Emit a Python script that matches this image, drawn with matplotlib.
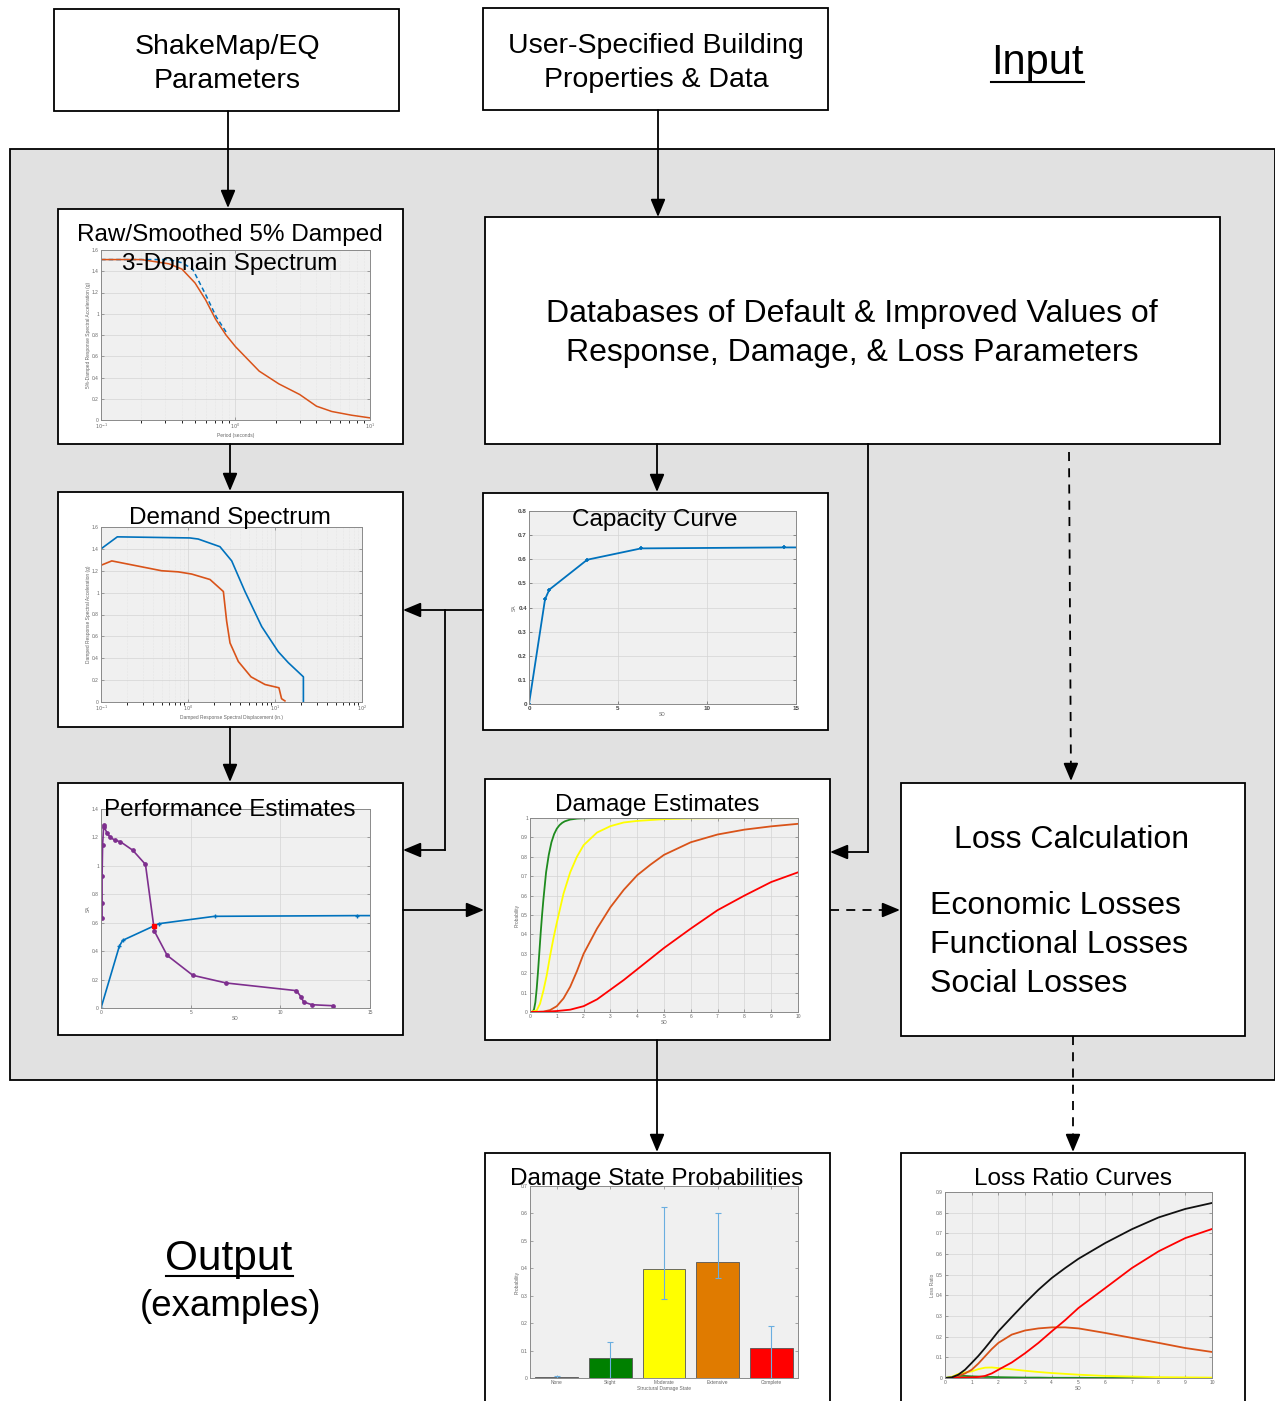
import matplotlib
matplotlib.use("Agg")
import matplotlib.pyplot as plt
from matplotlib.patches import Rectangle
from matplotlib.ticker import FuncFormatter, LogLocator, NullFormatter
import math

plt.rcParams['font.family'] = ['Liberation Sans', 'DejaVu Sans']

# ---------------- data ----------------
# Raw/Smoothed spectrum
spec_T = [0.1, 0.2, 0.32, 0.40, 0.50, 0.60, 0.71, 0.85, 1.0, 1.5, 2.1, 3.0, 4.0, 5.2, 7.3, 10.0]
spec_sa = [1.51, 1.51, 1.47, 1.42, 1.29, 1.13, 0.95, 0.80, 0.69, 0.46, 0.34, 0.24, 0.13, 0.08, 0.045, 0.02]
raw_T = [0.1, 0.32, 0.40, 0.48, 0.60, 0.72, 0.87]
raw_sa = [1.51, 1.51, 1.48, 1.42, 1.18, 0.97, 0.81]

# Demand spectrum
dem_hi_sd = [0.1, 0.154, 1.05, 1.31, 2.33, 3.18, 4.52, 7.03, 10.9, 14.2, 21.2, 21.2]
dem_hi_sa = [1.40, 1.51, 1.50, 1.49, 1.42, 1.29, 1.01, 0.69, 0.46, 0.36, 0.23, 0.0]
dem_lo_sd = [0.1, 0.133, 0.497, 0.77, 1.10, 1.79, 2.55, 2.78, 3.04, 3.79, 5.3, 7.67, 11.1, 11.9, 13.0]
dem_lo_sa = [1.25, 1.29, 1.20, 1.19, 1.17, 1.12, 1.01, 0.74, 0.54, 0.37, 0.23, 0.16, 0.13, 0.03, 0.01]

# Capacity curve
cap_sd = [0.0, 0.90, 1.14, 3.27, 6.30, 14.32, 15.0]
cap_sa = [0.0, 0.434, 0.474, 0.598, 0.645, 0.649, 0.649]

# Performance estimates
perf_cap_sd = [0.0, 1.02, 1.21, 3.22, 6.33, 14.3, 15.0]
perf_cap_sa = [0.0, 0.434, 0.476, 0.593, 0.645, 0.650, 0.650]
perf_dem_sd = [0.06, 0.06, 0.06, 0.09, 0.15, 0.19, 0.34, 0.52, 0.78, 1.08, 1.77, 2.48, 2.98,
               3.69, 5.12, 6.98, 10.9, 11.17, 11.3, 11.77, 12.94]
perf_dem_sa = [0.633, 0.739, 0.926, 1.149, 1.285, 1.27, 1.23, 1.20, 1.18, 1.17, 1.11, 1.01, 0.54,
               0.37, 0.23, 0.176, 0.122, 0.075, 0.042, 0.023, 0.016]
perf_pt_sd = [2.94]
perf_pt_sa = [0.577]

# Damage estimates (fragility curves)
frag_sd_g = [0, 0.1, 0.15, 0.2, 0.25, 0.3, 0.35, 0.4, 0.45, 0.5, 0.6, 0.7, 0.8, 0.9, 1.0, 1.1,
             1.2, 1.3, 1.5, 1.75, 2.0, 2.5, 10.0]
frag_slight = [0, 0.001, 0.014, 0.05, 0.12, 0.21, 0.31, 0.41, 0.50, 0.58, 0.72, 0.81, 0.875, 0.917,
               0.945, 0.963, 0.975, 0.983, 0.992, 0.9967, 0.9986, 1.0, 1.0]
frag_sd_y = [0, 0.25, 0.375, 0.5, 0.625, 0.75, 0.875, 1.0, 1.25, 1.5, 1.75, 2.0, 2.5, 3.0, 3.5,
             4.0, 5.0, 6.0, 8.0, 10.0]
frag_moderate = [0, 0.008, 0.043, 0.11, 0.19, 0.29, 0.38, 0.46, 0.61, 0.72, 0.80, 0.86, 0.925, 0.958,
                 0.977, 0.985, 0.994, 0.998, 1.0, 1.0]
frag_sd_o = [0, 0.5, 0.75, 1.0, 1.25, 1.5, 1.75, 2.0, 2.5, 3.0, 3.5, 4.0, 4.5, 5.0, 6.0, 7.0, 8.0, 9.0, 10.0]
frag_extensive = [0, 0.002, 0.01, 0.03, 0.07, 0.13, 0.21, 0.30, 0.43, 0.54, 0.63, 0.705, 0.76, 0.81,
                  0.875, 0.915, 0.94, 0.957, 0.97]
frag_sd_r = [0, 0.5, 1.0, 1.5, 2.0, 2.5, 3.0, 3.5, 4.0, 4.5, 5.0, 6.0, 7.0, 8.0, 9.0, 10.0]
frag_complete = [0, 0.001, 0.005, 0.012, 0.03, 0.065, 0.115, 0.165, 0.22, 0.275, 0.33, 0.43, 0.525,
                 0.60, 0.67, 0.72]

# Damage state probabilities
ds_names = ['None', 'Slight', 'Moderate', 'Extensive', 'Complete']
ds_prob = [0.003, 0.073, 0.398, 0.422, 0.108]
ds_low = [0.0, 0.0, 0.288, 0.366, 0.0]
ds_high = [0.006, 0.131, 0.623, 0.602, 0.188]
ds_colors = ['#808080', '#008000', '#FFFF00', '#E07B00', '#FF0000']

# Loss ratio curves
lr_sd = [0, 0.25, 0.5, 0.75, 1.0, 1.25, 1.5, 1.75, 2.0, 2.5, 3.0, 3.5, 4.0, 4.5, 5.0, 6.0, 7.0, 8.0, 9.0, 10.0]
lr_total = [0, 0.003, 0.016, 0.04, 0.073, 0.107, 0.145, 0.185, 0.226, 0.295, 0.363, 0.427, 0.484,
            0.532, 0.577, 0.653, 0.72, 0.777, 0.818, 0.847]
lr_complete = [0, 0, 0.001, 0.002, 0.003, 0.005, 0.01, 0.022, 0.04, 0.075, 0.12, 0.17, 0.226, 0.28,
               0.339, 0.435, 0.532, 0.613, 0.677, 0.721]
lr_extensive = [0, 0.001, 0.01, 0.022, 0.04, 0.07, 0.105, 0.14, 0.17, 0.21, 0.23, 0.24, 0.245, 0.245,
                0.24, 0.218, 0.194, 0.17, 0.145, 0.126]
lr_moderate = [0, 0.005, 0.02, 0.027, 0.032, 0.043, 0.05, 0.051, 0.048, 0.042, 0.035, 0.029, 0.024,
               0.02, 0.016, 0.01, 0.007, 0.004, 0.003, 0.002]
lr_slight = [0, 0.005, 0.01, 0.01, 0.008, 0.007, 0.005, 0.005, 0.004, 0.003, 0.002, 0.002, 0.001,
             0.001, 0.001, 0.0, 0.0, 0.0, 0.0, 0.0]

# ---------------- figure ----------------
W, H = 1275, 1401
fig = plt.figure(figsize=(W / 100, H / 100), dpi=100)
bg = fig.add_axes([0, 0, 1, 1], zorder=0)
bg.set_xlim(0, W)
bg.set_ylim(H, 0)
bg.axis('off')

def rect(x0, y0, x1, y1, fc='white', lw=1.3):
    bg.add_patch(Rectangle((x0, y0), x1 - x0, y1 - y0, fc=fc, ec='black', lw=lw))

def txt(x, y, s, fs, ha='center'):
    bg.text(x, y + 3, s, fontsize=fs, ha=ha, va='center', color='black')

AST = '-|>,head_length=0.6,head_width=0.25'

def arrow(x0, y0, x1, y1):
    bg.annotate('', xy=(x1, y1), xytext=(x0, y0),
                arrowprops=dict(arrowstyle=AST, mutation_scale=18, lw=1.3, color='black',
                                shrinkA=0, shrinkB=0))

def dashed_arrow(x0, y0, x1, y1):
    d = math.hypot(x1 - x0, y1 - y0)
    ux, uy = (x1 - x0) / d, (y1 - y0) / d
    bg.plot([x0, x1 - 14 * ux], [y0, y1 - 14 * uy], color='black', lw=1.3, ls=(0, (5, 4)))
    arrow(x1 - 15 * ux, y1 - 15 * uy, x1, y1)

def line(xs, ys):
    bg.plot(xs, ys, color='black', lw=1.3)

# gray background
rect(10, 149, 1275, 1080, fc='#e1e1e1')

# input boxes
rect(54, 9, 399, 111)
txt(227, 44, 'ShakeMap/EQ', 20.5)
txt(227, 78, 'Parameters', 20.5)
rect(483, 8, 828, 110)
txt(656, 43, 'User-Specified Building', 20.5)
txt(656, 77, 'Properties & Data', 20.5)
txt(1037, 60, 'Input', 30)
bg.plot([991, 1084], [82, 82], color='black', lw=1.5)

# main boxes
rect(58, 209, 403, 444)
rect(485, 217, 1220, 444)
txt(852, 311, 'Databases of Default & Improved Values of', 23)
txt(852, 350, 'Response, Damage, & Loss Parameters', 23)
rect(58, 492, 403, 727)
rect(483, 493, 828, 730)
rect(58, 783, 403, 1035)
rect(485, 779, 830, 1040)
rect(901, 783, 1245, 1036)
txt(1072, 837, 'Loss Calculation', 23)
txt(930, 903, 'Economic Losses', 23, ha='left')
txt(930, 942, 'Functional Losses', 23, ha='left')
txt(930, 981, 'Social Losses', 23, ha='left')

# output boxes
rect(485, 1153, 830, 1420)
rect(901, 1153, 1245, 1420)
txt(229, 1256, 'Output', 30.5)
bg.plot([166, 293], [1276, 1276], color='black', lw=1.5)
txt(231, 1304, '(examples)', 26.5)

# arrows
arrow(228, 111, 228, 208)
arrow(658, 110, 658, 217)
arrow(230, 444, 230, 491)
arrow(657, 444, 657, 492)
arrow(230, 727, 230, 782)
arrow(483, 610, 403, 610)
line([445, 445], [610, 850])
arrow(445, 850, 403, 850)
arrow(403, 910, 484, 910)
line([868, 868], [444, 852])
arrow(868, 852, 830, 852)
dashed_arrow(1069, 452, 1071, 781)
dashed_arrow(830, 910, 900, 910)
arrow(657, 1040, 657, 1152)
dashed_arrow(1073, 1036, 1073, 1152)

# ---------------- inset plots ----------------
def inset(x0, y0, x1, y1):
    ax = fig.add_axes([x0 / W, 1 - y1 / H, (x1 - x0) / W, (y1 - y0) / H], zorder=1)
    ax.set_facecolor('#f0f0f0')
    for s in ax.spines.values():
        s.set_color('#8a8a8a')
        s.set_linewidth(0.7)
    ax.tick_params(labelsize=3.5, colors='#666666', direction='in', length=2, width=0.4,
                   top=True, right=True, pad=1.5)
    ax.grid(True, color='#d4d4d4', lw=0.5)
    ax.set_axisbelow(True)
    return ax

gfmt = FuncFormatter(lambda v, p: f'{v:g}')

def logfmt(v, p):
    e = int(round(math.log10(v)))
    return f'$10^{{{e}}}$'

# 1. spectrum
ax = inset(101, 250, 370, 420)
ax.set_xscale('log')
ax.plot(raw_T, raw_sa, color='#0072BD', lw=1.1, ls=(0, (3, 2)))
ax.plot(spec_T, spec_sa, color='#D95319', lw=1.1)
ax.set_xlim(0.1, 10)
ax.set_ylim(0, 1.6)
ax.set_yticks([0, 0.2, 0.4, 0.6, 0.8, 1.0, 1.2, 1.4, 1.6])
ax.yaxis.set_major_formatter(gfmt)
ax.xaxis.set_major_formatter(FuncFormatter(logfmt))
ax.xaxis.set_minor_locator(LogLocator(subs=range(2, 10)))
ax.xaxis.set_minor_formatter(NullFormatter())
ax.grid(True, which='minor', axis='x', color='#dddddd', lw=0.4, ls=':')
ax.set_xlabel('Period (seconds)', fontsize=3.5, color='#666666', labelpad=1)
ax.set_ylabel('5%-Damped Response Spectral Acceleration (g)', fontsize=3.5, color='#666666', labelpad=1)

# 2. demand spectrum
ax = inset(101, 527, 362, 702)
ax.set_xscale('log')
ax.plot(dem_hi_sd, dem_hi_sa, color='#0072BD', lw=1.2)
ax.plot(dem_lo_sd, dem_lo_sa, color='#D95319', lw=1.2)
ax.set_xlim(0.1, 100)
ax.set_ylim(0, 1.6)
ax.set_yticks([0, 0.2, 0.4, 0.6, 0.8, 1.0, 1.2, 1.4, 1.6])
ax.yaxis.set_major_formatter(gfmt)
ax.xaxis.set_major_formatter(FuncFormatter(logfmt))
ax.xaxis.set_minor_locator(LogLocator(subs=range(2, 10)))
ax.xaxis.set_minor_formatter(NullFormatter())
ax.grid(True, which='minor', axis='x', color='#dddddd', lw=0.4, ls=':')
ax.set_xlabel('Damped Response Spectral Displacement (in.)', fontsize=3.5, color='#666666', labelpad=1)
ax.set_ylabel('Damped Response Spectral Acceleration (g)', fontsize=3.5, color='#666666', labelpad=1)

# 3. capacity curve
ax = inset(529, 511, 796, 704)
ax.plot(cap_sd, cap_sa, color='#0072BD', lw=1.3, marker='+', ms=3, mew=1.2, markevery=[0, 1, 2, 3, 4, 5])
ax.set_xlim(0, 15)
ax.set_ylim(0, 0.8)
ax.set_xticks([0, 5, 10, 15])
ax.set_yticks([0, 0.1, 0.2, 0.3, 0.4, 0.5, 0.6, 0.7, 0.8])
ax.yaxis.set_major_formatter(gfmt)
ax.tick_params(labelsize=4.5, colors='#444444')
for lab in ax.get_xticklabels() + ax.get_yticklabels():
    lab.set_fontweight('bold')
ax.set_xlabel('SD', fontsize=3.5, color='#666666', labelpad=1)
ax.set_ylabel('SA', fontsize=3.5, color='#666666', labelpad=1)

# 4. performance
ax = inset(101, 809, 370, 1008)
ax.plot(perf_cap_sd, perf_cap_sa, color='#0072BD', lw=1.2, marker='+', ms=3, mew=1.0,
        markevery=[0, 1, 2, 3, 4, 5])
ax.plot(perf_dem_sd, perf_dem_sa, color='#7E2F8E', lw=1.2, marker='o', ms=2.4)
ax.plot(perf_pt_sd, perf_pt_sa, ls='none', marker='s', ms=3.5, color='#FF0000')
ax.set_xlim(0, 15)
ax.set_ylim(0, 1.4)
ax.set_xticks([0, 5, 10, 15])
ax.set_yticks([0, 0.2, 0.4, 0.6, 0.8, 1.0, 1.2, 1.4])
ax.yaxis.set_major_formatter(gfmt)
ax.set_xlabel('SD', fontsize=3.5, color='#666666', labelpad=1)
ax.set_ylabel('SA', fontsize=3.5, color='#666666', labelpad=1)

# 5. damage estimates
ax = inset(530, 818, 798, 1012)
ax.plot(frag_sd_g, frag_slight, color='#1E8B1E', lw=1.3)
ax.plot(frag_sd_y, frag_moderate, color='#FFFF00', lw=1.3)
ax.plot(frag_sd_o, frag_extensive, color='#D95319', lw=1.3)
ax.plot(frag_sd_r, frag_complete, color='#FF0000', lw=1.3)
ax.set_xlim(0, 10)
ax.set_ylim(0, 1)
ax.set_xticks(range(0, 11))
ax.set_yticks([i / 10 for i in range(11)])
ax.yaxis.set_major_formatter(gfmt)
ax.set_xlabel('SD', fontsize=3.5, color='#666666', labelpad=1)
ax.set_ylabel('Probability', fontsize=3.5, color='#666666', labelpad=1)

# 6. damage state probabilities
ax = inset(530, 1186, 798, 1378)
xpos = list(range(len(ds_names)))
ax.bar(xpos, ds_prob, width=0.8, color=ds_colors, edgecolor='#555555', lw=0.6)
yerr = [[p - lo for p, lo in zip(ds_prob, ds_low)], [hi - p for p, hi in zip(ds_prob, ds_high)]]
ax.errorbar(xpos, ds_prob, yerr=yerr, fmt='none', ecolor='#6aaee0', elinewidth=0.8, capsize=2, capthick=0.8)
ax.set_xlim(-0.5, 4.5)
ax.set_ylim(0, 0.7)
ax.set_xticks(xpos)
ax.set_xticklabels(ds_names)
ax.set_yticks([i / 10 for i in range(8)])
ax.yaxis.set_major_formatter(gfmt)
ax.grid(False)
ax.set_xlabel('Structural Damage State', fontsize=3.5, color='#666666', labelpad=1)
ax.set_ylabel('Probability', fontsize=3.5, color='#666666', labelpad=1)

# 7. loss ratio curves
ax = inset(945, 1192, 1212, 1378)
ax.plot(lr_sd, lr_slight, color='#1E8B1E', lw=1.3)
ax.plot(lr_sd, lr_moderate, color='#FFFF00', lw=1.3)
ax.plot(lr_sd, lr_extensive, color='#D95319', lw=1.3)
ax.plot(lr_sd, lr_complete, color='#FF0000', lw=1.3)
ax.plot(lr_sd, lr_total, color='#111111', lw=1.3)
ax.set_xlim(0, 10)
ax.set_ylim(0, 0.9)
ax.set_xticks(range(0, 11))
ax.set_yticks([i / 10 for i in range(10)])
ax.yaxis.set_major_formatter(gfmt)
ax.set_xlabel('SD', fontsize=3.5, color='#666666', labelpad=1)
ax.set_ylabel('Loss Ratio', fontsize=3.5, color='#666666', labelpad=1)

# ---------------- box titles (on top of insets) ----------------
def title(x, y, s, fs=17.5):
    fig.text(x / W, 1 - (y + 2) / H, s, fontsize=fs, ha='center', va='center', color='black', zorder=5)

title(230, 233, 'Raw/Smoothed 5% Damped')
title(230, 262, '3-Domain Spectrum')
title(230, 516, 'Demand Spectrum')
title(655, 518, 'Capacity Curve')
title(230, 808, 'Performance Estimates')
title(657, 803, 'Damage Estimates')
title(657, 1177, 'Damage State Probabilities')
title(1073, 1177, 'Loss Ratio Curves')

fig.savefig('out.png', dpi=100)
